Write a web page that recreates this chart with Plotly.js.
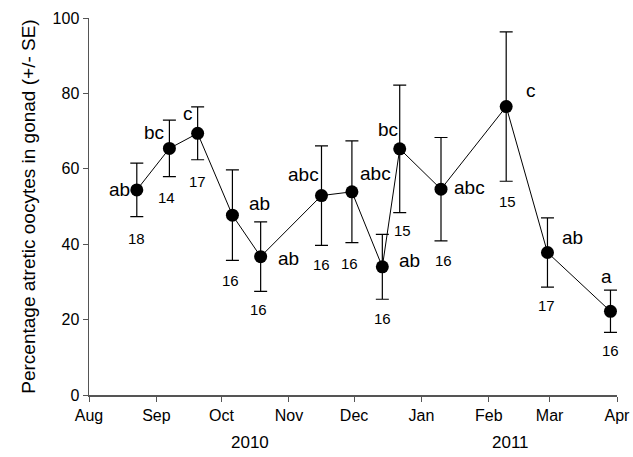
<!DOCTYPE html>
<html>
<head>
<meta charset="utf-8">
<script src="https://cdn.plot.ly/plotly-3.0.1.min.js"></script>
<style>html,body{margin:0;padding:0;background:#fff;}#chart{width:633px;height:457px;}</style>
</head>
<body>
<div id="chart"></div>
<script>
// Data
const dates = ['2010-08-23','2010-09-07','2010-09-20','2010-10-06','2010-10-19','2010-11-16','2010-11-30','2010-12-14','2010-12-22','2011-01-10','2011-02-09','2011-02-28','2011-03-29'];
const pctAtretic = [54.4, 65.4, 69.4, 47.7, 36.7, 52.9, 53.9, 34.0, 65.3, 54.6, 76.5, 37.8, 22.2];
const se = [7.1, 7.5, 7.0, 12.0, 9.2, 13.2, 13.5, 8.6, 16.9, 13.7, 19.8, 9.2, 5.6];
const letters = ['ab','bc','c','ab','ab','abc','abc','ab','bc','abc','c','ab','a'];
const nLabels = ['18','14','17','16','16','16','16','16','15','16','15','17','16'];
const monthTicks = ['2010-08-01','2010-09-01','2010-10-01','2010-11-01','2010-12-01','2011-01-01','2011-02-01','2011-03-01','2011-04-01'];
const monthLabels = ['Aug','Sep','Oct','Nov','Dec','Jan','Feb','Mar','Apr'];
const yearLabels = ['2010','2011'];
const yearPositions = ['2010-10-14','2011-02-11'];

// Label offsets (pixels) – styling only
const letterOff = [[-17,0],[-15,16],[-10,20],[27,12],[28,-2],[-18,21],[24,18],[27,6],[-12,19],[28,2],[25,16],[25,15],[-4,35]];
const nOff = [[0,-49],[-3,-49],[0,-48],[-2,-65],[-2,-53],[0,-69],[-2,-72],[0,-52],[3,-82],[2,-71],[1,-95],[-1,-53],[0,-39]];

const font = 'Liberation Sans, Arial, sans-serif';
const annotations = [];
for (let i = 0; i < dates.length; i++) {
  annotations.push({x: dates[i], y: pctAtretic[i], xref:'x', yref:'y', text: letters[i], showarrow:false,
    xshift: letterOff[i][0], yshift: letterOff[i][1], font:{family:font, size:19, color:'#000'}});
  annotations.push({x: dates[i], y: pctAtretic[i], xref:'x', yref:'y', text: nLabels[i], showarrow:false,
    xshift: nOff[i][0], yshift: nOff[i][1], font:{family:font, size:15, color:'#000'}});
}
for (let j = 0; j < yearLabels.length; j++) {
  annotations.push({x: yearPositions[j], y: 0, xref:'x', yref:'paper', yanchor:'top', yshift:-36, text: yearLabels[j], showarrow:false,
    font:{family:font, size:17, color:'#000'}});
}

const trace = {
  x: dates, y: pctAtretic, type:'scatter', mode:'lines+markers',
  line:{color:'#000', width:1},
  marker:{color:'#000', size:13},
  error_y:{type:'data', array: se, visible:true, color:'#000', thickness:1.2, width:6.5}
};

const layout = {
  width:633, height:457,
  margin:{l:89, r:16, t:18, b:62},
  paper_bgcolor:'#fff', plot_bgcolor:'#fff',
  showlegend:false,
  font:{family:font, color:'#000'},
  xaxis:{type:'date', range:['2010-08-01','2011-04-01'], tickvals: monthTicks, ticktext: monthLabels,
    showgrid:false, zeroline:false, showline:true, linecolor:'#555', linewidth:1.5,
    ticks:'outside', ticklen:5, tickcolor:'#555', tickfont:{family:font, size:16, color:'#000'}},
  yaxis:{range:[0,100], tickvals:[0,20,40,60,80,100], showgrid:false, zeroline:false, showline:true,
    linecolor:'#555', linewidth:1.5, ticks:'outside', ticklen:5, tickcolor:'#555',
    tickfont:{family:font, size:16, color:'#000'},
    title:{text:'Percentage atretic oocytes in gonad (+/- SE)', font:{family:font, size:19, color:'#000'}, standoff:12}},
  annotations: annotations
};

Plotly.newPlot('chart', [trace], layout, {displayModeBar:false, staticPlot:true});
</script>
</body>
</html>
